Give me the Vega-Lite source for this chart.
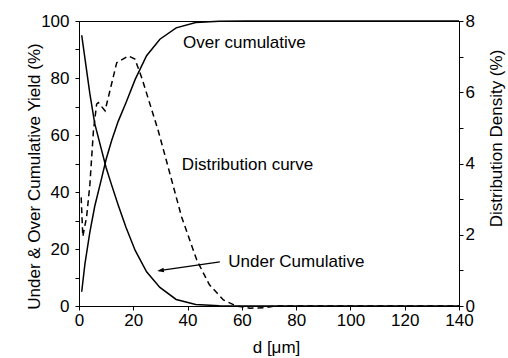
{
  "$schema": "https://vega.github.io/schema/vega-lite/v6.json",
  "width": 380,
  "height": 285,
  "autosize": {"type": "none"},
  "padding": {"left": 79, "top": 21, "right": 49, "bottom": 52},
  "background": "white",
  "config": {
    "view": {"stroke": "black", "strokeWidth": 1},
    "font": "Liberation Sans",
    "axis": {
      "grid": false,
      "domainColor": "black",
      "domainWidth": 1,
      "tickColor": "black",
      "tickWidth": 1,
      "tickSize": 4,
      "labelColor": "black",
      "labelFont": "Liberation Sans",
      "labelFontSize": 17,
      "titleColor": "black",
      "titleFont": "Liberation Sans",
      "titleFontSize": 17,
      "titleFontWeight": "normal"
    }
  },
  "datasets": {
    "cum": [
      {"d": 1.0, "curve": "under", "v": 95},
      {"d": 2.2, "curve": "under", "v": 86.8},
      {"d": 4.0, "curve": "under", "v": 74.5},
      {"d": 5.8, "curve": "under", "v": 64},
      {"d": 8.3, "curve": "under", "v": 54.8},
      {"d": 10.0, "curve": "under", "v": 48.5},
      {"d": 12.0, "curve": "under", "v": 42.5},
      {"d": 14.4, "curve": "under", "v": 35.5},
      {"d": 17.3, "curve": "under", "v": 27.6},
      {"d": 20.7, "curve": "under", "v": 19.5},
      {"d": 24.9, "curve": "under", "v": 12},
      {"d": 29.8, "curve": "under", "v": 6.5},
      {"d": 35.8, "curve": "under", "v": 2.3},
      {"d": 43.0, "curve": "under", "v": 0.5},
      {"d": 51.6, "curve": "under", "v": 0.1},
      {"d": 62.0, "curve": "under", "v": 0},
      {"d": 74.3, "curve": "under", "v": 0},
      {"d": 89.2, "curve": "under", "v": 0},
      {"d": 107.0, "curve": "under", "v": 0},
      {"d": 128.4, "curve": "under", "v": 0},
      {"d": 140.0, "curve": "under", "v": 0},
      {"d": 1.0, "curve": "over", "v": 5},
      {"d": 2.2, "curve": "over", "v": 14.9},
      {"d": 4.0, "curve": "over", "v": 25.9},
      {"d": 5.8, "curve": "over", "v": 35},
      {"d": 8.3, "curve": "over", "v": 44.7},
      {"d": 10.0, "curve": "over", "v": 51.5},
      {"d": 12.0, "curve": "over", "v": 58},
      {"d": 14.4, "curve": "over", "v": 64.7},
      {"d": 17.3, "curve": "over", "v": 71.3},
      {"d": 20.7, "curve": "over", "v": 79.5},
      {"d": 24.9, "curve": "over", "v": 87.8},
      {"d": 29.8, "curve": "over", "v": 93.6},
      {"d": 35.8, "curve": "over", "v": 97.6},
      {"d": 43.0, "curve": "over", "v": 99.5},
      {"d": 51.6, "curve": "over", "v": 99.9},
      {"d": 62.0, "curve": "over", "v": 100},
      {"d": 74.3, "curve": "over", "v": 100},
      {"d": 89.2, "curve": "over", "v": 100},
      {"d": 107.0, "curve": "over", "v": 100},
      {"d": 128.4, "curve": "over", "v": 100},
      {"d": 140.0, "curve": "over", "v": 100}
    ],
    "dist": [
      {"d": 0.8, "density": 3.05},
      {"d": 1.4, "density": 1.95},
      {"d": 2.8, "density": 2.5},
      {"d": 4.0, "density": 3.4},
      {"d": 5.3, "density": 4.9},
      {"d": 6.5, "density": 5.67},
      {"d": 7.1, "density": 5.71},
      {"d": 9.6, "density": 5.48},
      {"d": 13.9, "density": 6.83},
      {"d": 18.2, "density": 7.02},
      {"d": 20.6, "density": 6.93},
      {"d": 23.1, "density": 6.41},
      {"d": 29.2, "density": 4.92},
      {"d": 31.7, "density": 4.22},
      {"d": 37.8, "density": 2.5},
      {"d": 43.4, "density": 1.29},
      {"d": 48.0, "density": 0.6},
      {"d": 53.2, "density": 0.17},
      {"d": 58.0, "density": 0.0},
      {"d": 63.0, "density": -0.06},
      {"d": 68.0, "density": -0.05},
      {"d": 72.0, "density": 0.0},
      {"d": 140.0, "density": 0.0}
    ],
    "labels": [
      {"d": 38.3, "v": 92.3, "text": "Over cumulative"},
      {"d": 37.9, "v": 49.3, "text": "Distribution curve"},
      {"d": 55.0, "v": 15.5, "text": "Under Cumulative"}
    ],
    "arrow": [
      {"d": 51.9, "v": 15.5, "d2": 29.5, "v2": 12.4}
    ],
    "head": [
      {"d": 28.8, "v": 12.3}
    ]
  },
  "layer": [
    {
      "encoding": {
        "x": {
          "field": "d",
          "type": "quantitative",
          "scale": {"domain": [0, 140], "nice": false},
          "axis": {
            "title": "d [μm]",
            "values": [0, 10, 20, 30, 40, 50, 60, 70, 80, 90, 100, 110, 120, 130, 140],
            "labelExpr": "datum.value % 20 === 0 ? datum.label : ''",
            "labelFlush": false,
            "labelPadding": 2,
            "titleX": 197,
            "titleY": 46,
            "titleBaseline": "alphabetic",
            "titleAnchor": "middle"
          }
        },
        "y": {
          "field": "v",
          "type": "quantitative",
          "scale": {"domain": [0, 100], "nice": false},
          "axis": {
            "orient": "left",
            "title": "Under & Over Cumulative Yield (%)",
            "values": [0, 10, 20, 30, 40, 50, 60, 70, 80, 90, 100],
            "labelExpr": "datum.value % 20 === 0 ? datum.label : ''",
            "labelPadding": 6,
            "labelFlush": false,
            "titleAngle": 270,
            "titleBaseline": "alphabetic",
            "titleX": -40,
            "titleY": 155,
            "titleAnchor": "middle"
          }
        }
      },
      "layer": [
        {
          "data": {"name": "cum"},
          "mark": {"type": "line", "color": "black", "strokeWidth": 1.5},
          "encoding": {"detail": {"field": "curve", "type": "nominal"}}
        },
        {
          "data": {"name": "labels"},
          "mark": {"type": "text", "align": "left", "baseline": "middle", "fontSize": 17, "color": "black", "font": "Liberation Sans"},
          "encoding": {"text": {"field": "text", "type": "nominal"}}
        },
        {
          "data": {"name": "arrow"},
          "mark": {"type": "rule", "color": "black", "strokeWidth": 1.2},
          "encoding": {
            "x2": {"field": "d2"},
            "y2": {"field": "v2"}
          }
        },
        {
          "data": {"name": "head"},
          "mark": {"type": "point", "shape": "M0,0L2,-0.7L2,0.7Z", "filled": true, "color": "black", "size": 45, "angle": -8, "opacity": 1},
          "encoding": {}
        }
      ]
    },
    {
      "data": {"name": "dist"},
      "mark": {"type": "line", "color": "black", "strokeWidth": 1.5, "strokeDash": [6, 4]},
      "encoding": {
        "x": {"field": "d", "type": "quantitative"},
        "y": {
          "field": "density",
          "type": "quantitative",
          "scale": {"domain": [0, 8], "nice": false},
          "axis": {
            "orient": "right",
            "title": "Distribution Density (%)",
            "values": [0, 1, 2, 3, 4, 5, 6, 7, 8],
            "labelExpr": "datum.value % 2 === 0 ? datum.label : ''",
            "labelPadding": 2,
            "labelFlush": false,
            "titleAngle": 270,
            "titleBaseline": "alphabetic",
            "titleX": 42,
            "titleY": 117,
            "titleAnchor": "middle"
          }
        }
      }
    }
  ],
  "resolve": {"scale": {"y": "independent"}}
}
